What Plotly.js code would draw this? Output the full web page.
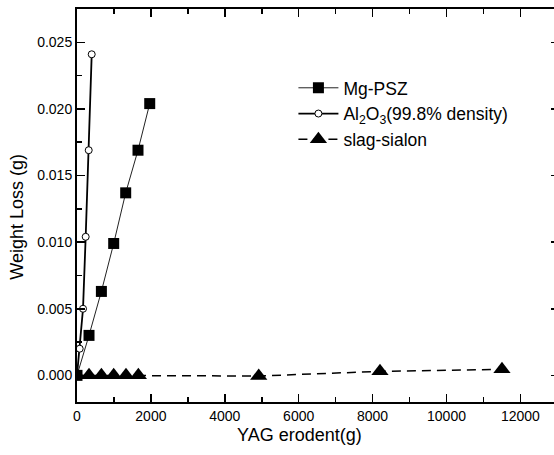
<!DOCTYPE html>
<html><head><meta charset="utf-8">
<script src="https://cdn.plot.ly/plotly-3.0.1.min.js"></script>
<style>html,body{margin:0;padding:0;overflow:hidden;background:#fff;width:554px;height:455px}#chart{width:600px;height:455px}</style>
</head><body><div id="chart"></div>
<script>
const mgX = [0, 325, 660, 993, 1318, 1651, 1968];
const mgY = [0, 0.0030, 0.0063, 0.0099, 0.0137, 0.0169, 0.0204];
const alX = [0, 73, 163, 235, 317, 398];
const alY = [0, 0.0020, 0.0050, 0.0104, 0.0169, 0.0241];
const slX = [0, 325, 660, 993, 1326, 1660, 4918, 8200, 11502];
const slY = [0, 0, 0, 0, 0, 0, -0.00005, 0.0003, 0.00045];
const xTicks = [0, 2000, 4000, 6000, 8000, 10000, 12000];
const yTicks = [0, 0.005, 0.010, 0.015, 0.020, 0.025];
const xTitle = 'YAG erodent(g)';
const yTitle = 'Weight Loss (g)';

const FONT = 'Liberation Sans, Arial, sans-serif';

const traces = [
  {x: mgX, y: mgY, name: 'Mg-PSZ', mode: 'lines+markers', line: {color: '#222', width: 1},
   marker: {symbol: 'square', size: 11, color: '#000'}},
  {x: alX, y: alY, name: 'Al<sub>2</sub>O<sub>3</sub>(99.8% density)', mode: 'lines+markers', line: {color: '#000', width: 1.8},
   marker: {symbol: 'circle', size: 7, color: '#fff', line: {color: '#000', width: 1}}},
  {x: slX, y: slY, name: 'slag-sialon', mode: 'lines+markers', line: {color: '#000', width: 1.5, dash: '9px,6px'},
   marker: {symbol: 'triangle-up', size: 15, color: '#000'}}
];

const axisCommon = {showline: true, linecolor: '#000', linewidth: 2, mirror: 'ticks', ticks: 'inside',
  ticklen: 8, tickwidth: 1.5, tickcolor: '#000', showgrid: false, zeroline: false,
  tickfont: {family: FONT, size: 14, color: '#000'}};

const layout = {
  autosize: false, width: 600, height: 455,
  margin: {l: 77, r: 41, t: 9, b: 53},
  paper_bgcolor: '#fff', plot_bgcolor: '#fff',
  showlegend: true,
  legend: {x: 0.449, y: 0.845, xanchor: 'left', yanchor: 'top', bgcolor: 'rgba(0,0,0,0)',
    font: {family: FONT, size: 17.5, color: '#000'}, tracegroupgap: 0, itemwidth: 40},
  xaxis: Object.assign({}, axisCommon, {range: [0, 13045], tickvals: xTicks, ticktext: xTicks.map(String),
    minor: {dtick: 1000, ticks: 'inside', ticklen: 5, tickwidth: 1.5, tickcolor: '#000'}}),
  yaxis: Object.assign({}, axisCommon, {range: [-0.002, 0.0275], tickvals: yTicks, ticktext: yTicks.map(v => v.toFixed(3)),
    minor: {dtick: 0.0025, tick0: 0, ticks: 'inside', ticklen: 5, tickwidth: 1.5, tickcolor: '#000'}}),
  annotations: [
    {text: xTitle, xref: 'paper', yref: 'paper', x: 0.4626, y: -0.084, xanchor: 'center', yanchor: 'middle',
     showarrow: false, font: {family: FONT, size: 18, color: '#000'}},
    {text: yTitle, xref: 'paper', yref: 'paper', x: -0.125, y: 0.4707, xanchor: 'center', yanchor: 'middle',
     textangle: -90, showarrow: false, font: {family: FONT, size: 18, color: '#000'}}
  ]
};
Plotly.newPlot('chart', traces, layout, {displayModeBar: false, staticPlot: true});
</script></body></html>
